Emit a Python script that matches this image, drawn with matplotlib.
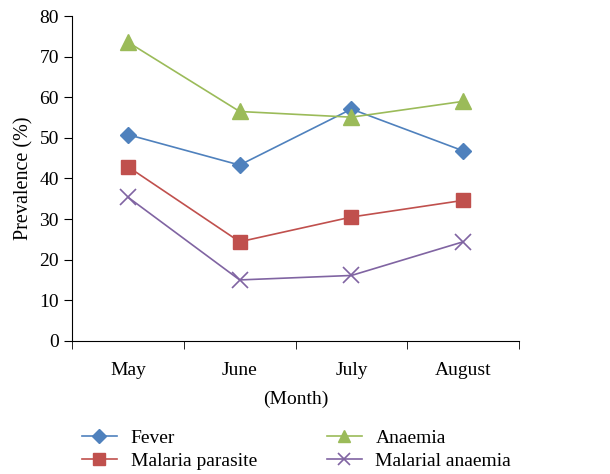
import numpy as np
import matplotlib
matplotlib.use('Agg')
import matplotlib.pyplot as plt

plt.rcParams['font.family'] = ['Liberation Serif', 'DejaVu Serif']

months = ['May', 'June', 'July', 'August']
fever = [50.8, 43.3, 57.1, 46.8]
malaria_parasite = [42.9, 24.4, 30.5, 34.6]
anaemia = [73.6, 56.5, 55.1, 59.0]
malarial_anaemia = [35.4, 15.0, 16.1, 24.4]

colors = ['#4F81BD', '#C0504D', '#9BBB59', '#8064A2']

fig = plt.figure(figsize=(6.1, 4.74), dpi=100)
ax = fig.add_axes([0.118, 0.281, 0.733, 0.685])

x = np.arange(len(months))
l1, = ax.plot(x, fever, color=colors[0], marker='D', markersize=8, lw=1.2)
l2, = ax.plot(x, malaria_parasite, color=colors[1], marker='s', markersize=10, lw=1.2)
l3, = ax.plot(x, anaemia, color=colors[2], marker='^', markersize=11, lw=1.2)
l4, = ax.plot(x, malarial_anaemia, color=colors[3], marker='x', markersize=11,
              markeredgewidth=1.2, lw=1.2)

ax.set_xlim(-0.5, 3.5)
ax.set_ylim(0, 80)
ax.set_yticks(range(0, 81, 10))
ax.set_xticks(x)
ax.set_xticklabels(months)
ax.set_xticks([-0.5, 0.5, 1.5, 2.5, 3.5], minor=True)
ax.tick_params(axis='x', which='major', length=0, pad=15, labelsize=14)
ax.tick_params(axis='x', which='minor', length=6, direction='out')
ax.tick_params(axis='y', length=6, direction='out', labelsize=14)

for s in ['top', 'right']:
    ax.spines[s].set_visible(False)

ax.set_ylabel('Prevalence (%)', fontsize=14.5)
ax.set_xlabel('(Month)', fontsize=14, labelpad=9)

fig.legend([l1, l2, l3, l4], ['Fever', 'Malaria parasite', 'Anaemia', 'Malarial anaemia'],
           ncol=2, loc='lower left', bbox_to_anchor=(0.128, 0.0), frameon=False,
           fontsize=14, columnspacing=3.6, handlelength=1.8, handletextpad=0.7,
           labelspacing=0.3, borderpad=0.2, borderaxespad=0, markerscale=0.85)

fig.savefig('out.png', dpi=100)
